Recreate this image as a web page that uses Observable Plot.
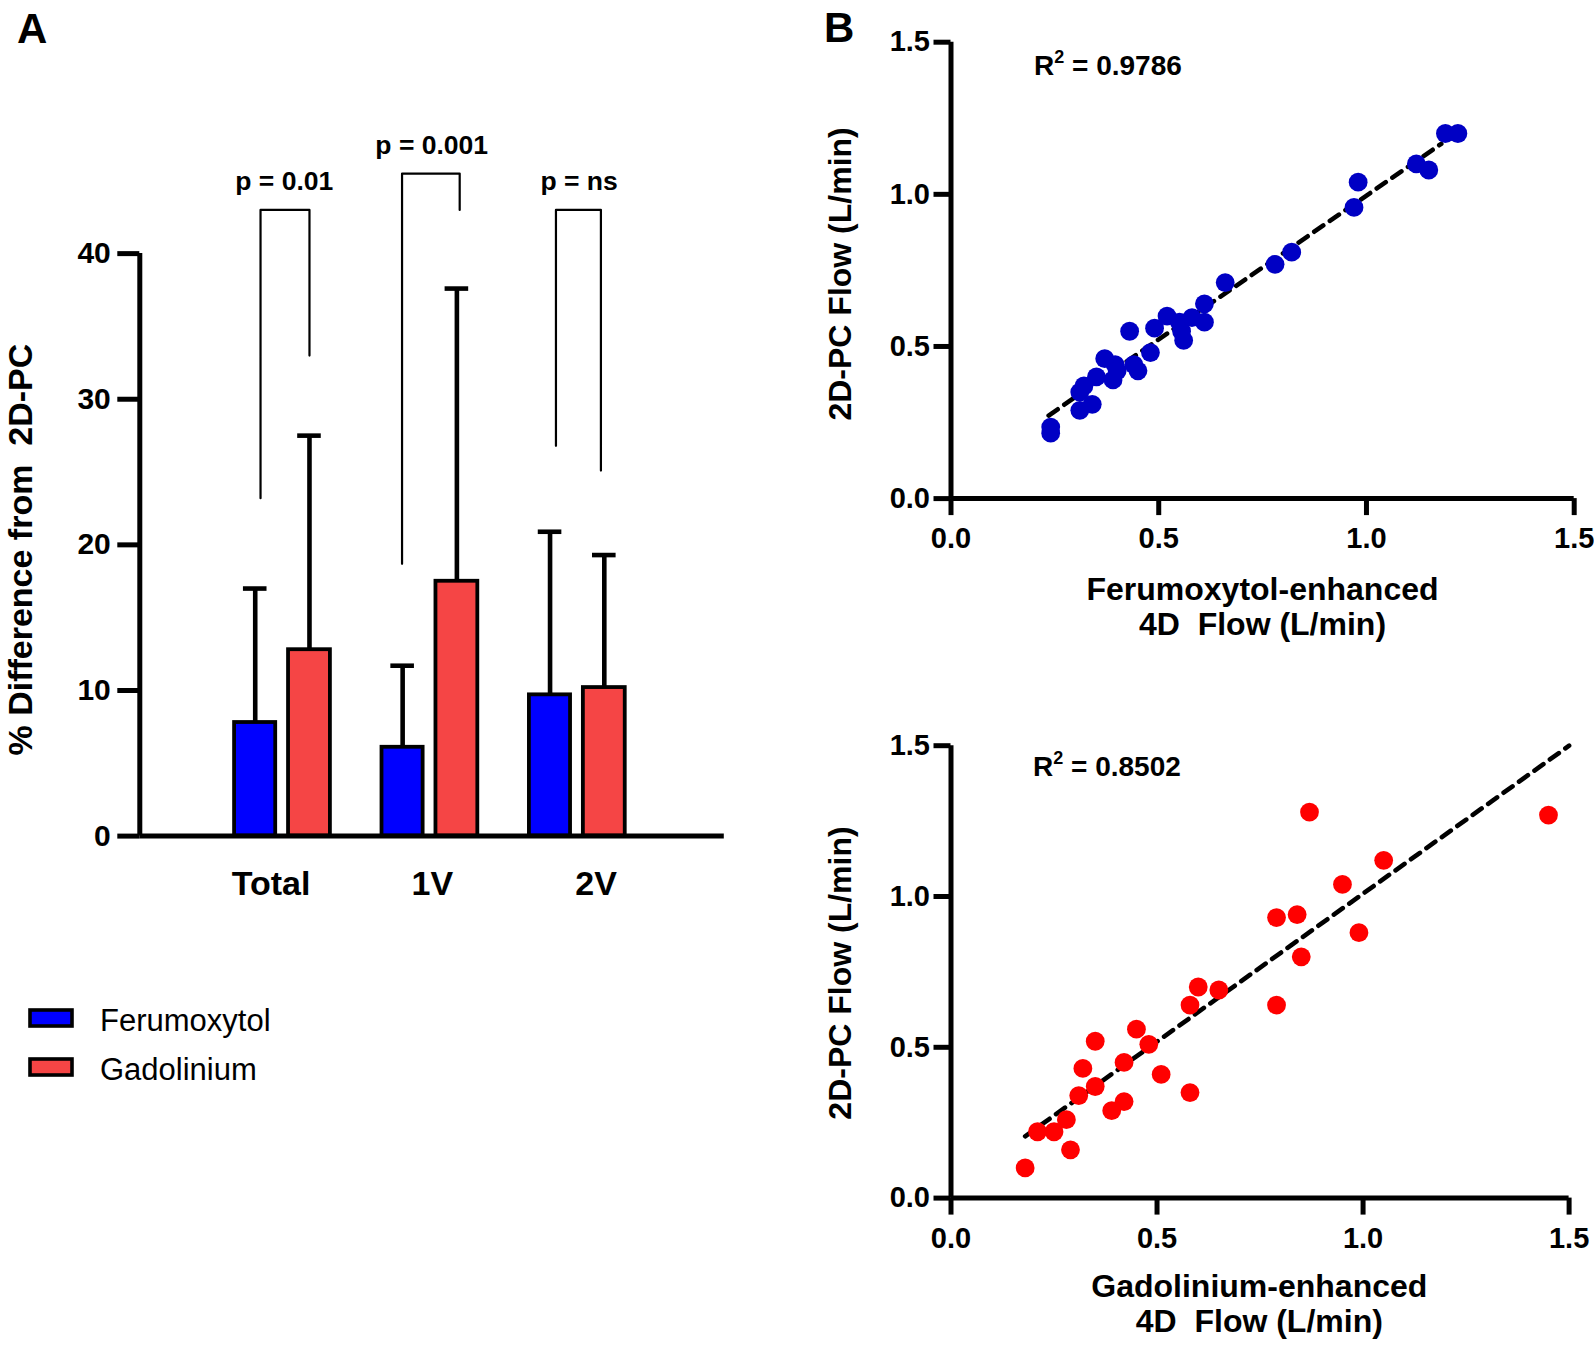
<!DOCTYPE html>
<html>
<head>
<meta charset="utf-8">
<script src="https://cdn.jsdelivr.net/npm/d3@7"></script>
<script src="https://cdn.jsdelivr.net/npm/@observablehq/plot@0.6"></script>
<style>
  html, body { margin: 0; padding: 0; background: #fff; }
  #root { position: relative; width: 1594px; height: 1345px; overflow: hidden; background: #fff;
          font-family: "Liberation Sans", Arial, Helvetica, sans-serif; }
</style>
</head>
<body>
<div id="root"></div>
<script>
// ---------------- DATA ----------------
// Panel A: % difference from 2D-PC (mean and SD)
const categories = ["Total", "1V", "2V"];
const seriesNames = ["Ferumoxytol", "Gadolinium"];
const ferumoxytolMean = [7.8, 6.1, 9.7];
const ferumoxytolSD = [9.2, 5.6, 11.2];
const gadoliniumMean = [12.8, 17.5, 10.2];
const gadoliniumSD = [14.7, 20.1, 9.1];
const yTicksA = [0, 10, 20, 30, 40];
const pLabels = ["p = 0.01", "p = 0.001", "p = ns"];
const bracketTop = [43.0, 45.5, 43.0];
const bracketLeftEnd = [23.2, 18.7, 26.8];
const bracketRightEnd = [33.0, 43.0, 25.1];

// Panel B (top): Ferumoxytol-enhanced 4D flow vs 2D-PC flow (L/min)
const ferX = [0.24, 0.24, 0.31, 0.31, 0.32, 0.34, 0.35, 0.37, 0.39, 0.395, 0.40, 0.43, 0.44, 0.45, 0.48, 0.49,
              0.52, 0.55, 0.555, 0.56, 0.58, 0.61, 0.61, 0.66, 0.78, 0.82, 0.97, 0.98, 1.12, 1.15, 1.19, 1.22];
const ferY = [0.235, 0.215, 0.29, 0.35, 0.37, 0.31, 0.40, 0.46, 0.39, 0.44, 0.42, 0.55, 0.44, 0.42, 0.48, 0.56,
              0.60, 0.58, 0.55, 0.52, 0.595, 0.58, 0.64, 0.71, 0.77, 0.81, 0.957, 1.04, 1.10, 1.08, 1.20, 1.20];
const ferTrendX = [0.235, 1.18];
const ferTrendY = [0.273, 1.166];
const ferR2 = "0.9786";

// Panel B (bottom): Gadolinium-enhanced 4D flow vs 2D-PC flow (L/min)
const gadX = [0.18, 0.21, 0.25, 0.28, 0.29, 0.31, 0.32, 0.35, 0.35, 0.39, 0.42, 0.42, 0.45, 0.48,
              0.51, 0.58, 0.58, 0.60, 0.65, 0.79, 0.79, 0.84, 0.85, 0.87, 0.95, 0.99, 1.05, 1.45];
const gadY = [0.10, 0.22, 0.22, 0.26, 0.16, 0.34, 0.43, 0.52, 0.37, 0.29, 0.32, 0.45, 0.56, 0.51,
              0.41, 0.35, 0.64, 0.70, 0.69, 0.64, 0.93, 0.94, 0.80, 1.28, 1.04, 0.88, 1.12, 1.27];
const gadTrendX = [0.18, 1.5];
const gadTrendY = [0.205, 1.5];
const gadR2 = "0.8502";

const flowTicks = [0, 0.5, 1.0, 1.5];

// ---------------- STYLE / LAYOUT ----------------
const FONT = '"Liberation Sans", Arial, Helvetica, sans-serif';
const barColors = ["#0000ff", "#f54545"];
const BAR_EDGES = [[-0.322, -0.043], [0.044, 0.328]];
const ERR_X = [-0.182, 0.186];
const CAP_HALF = 0.08;
const BRACKET_DX = [[-0.146, 0.186], [-0.186, 0.205], [-0.142, 0.163]];
const LABEL_NUDGE = [-0.075, 0.02, 0.13];
const AXIS_W = 5;

const root = document.getElementById("root");
function place(el, left, top) {
  el.style.position = "absolute";
  el.style.left = left + "px";
  el.style.top = top + "px";
  root.appendChild(el);
}

// ---------------- PANEL A ----------------
const means = [ferumoxytolMean, gadoliniumMean];
const sds = [ferumoxytolSD, gadoliniumSD];
const rows = [];
categories.forEach((c, i) => {
  seriesNames.forEach((s, j) => {
    rows.push({category: c, pos: i + 1, series: s, j, mean: means[j][i], upper: means[j][i] + sds[j][i]});
  });
});
const brackets = [];
categories.forEach((c, i) => {
  const p = i + 1;
  brackets.push({category: c, x: p + BRACKET_DX[i][0], y: bracketLeftEnd[i]});
  brackets.push({category: c, x: p + BRACKET_DX[i][0], y: bracketTop[i]});
  brackets.push({category: c, x: p + BRACKET_DX[i][1], y: bracketTop[i]});
  brackets.push({category: c, x: p + BRACKET_DX[i][1], y: bracketRightEnd[i]});
});
const pRows = categories.map((c, i) => ({pos: i + 1.015, y: bracketTop[i], label: pLabels[i]}));

const AW = 760, AH = 900;
const plotA = Plot.plot({
  width: AW, height: AH,
  marginLeft: 139.3, marginRight: AW - 723.8,
  marginTop: 107.5, marginBottom: AH - 835.6,
  x: {domain: [0.035, 4.0], axis: null},
  y: {domain: [0, 50], axis: null},
  color: {domain: seriesNames, range: barColors},
  style: {fontFamily: FONT, fontWeight: "bold", background: "transparent", overflow: "visible", color: "#000"},
  marks: [
    Plot.rectY(rows, {
      x1: d => d.pos + BAR_EDGES[d.j][0], x2: d => d.pos + BAR_EDGES[d.j][1],
      y1: 0, y2: "mean", fill: "series", stroke: "#000", strokeWidth: 3.8
    }),
    Plot.ruleX(rows, {x: d => d.pos + ERR_X[d.j], y1: "mean", y2: "upper", stroke: "#000", strokeWidth: 4.6}),
    Plot.ruleY(rows, {x1: d => d.pos + ERR_X[d.j] - CAP_HALF, x2: d => d.pos + ERR_X[d.j] + CAP_HALF,
                      y: "upper", stroke: "#000", strokeWidth: 4.6}),
    Plot.line(brackets, {x: "x", y: "y", z: "category", stroke: "#000", strokeWidth: 2.2}),
    Plot.text(pRows, {x: "pos", y: "y", dy: -28, text: "label", fontSize: 26.5, fontWeight: "bold"}),
    Plot.ruleX([0.035], {y1: 0, y2: 40, stroke: "#000", strokeWidth: AXIS_W}),
    Plot.ruleY([0], {stroke: "#000", strokeWidth: AXIS_W}),
    Plot.axisY(yTicksA, {tickSize: 22, tickPadding: 7, fontSize: 30, fontWeight: "bold", strokeWidth: AXIS_W, label: null}),
    Plot.text(categories, {x: (d, i) => i + 1 + LABEL_NUDGE[i], y: 0, dy: 48, text: d => d, fontSize: 34, fontWeight: "bold"})
  ]
});
place(plotA, 0, 0);

// ---------------- PANEL B ----------------
function scatter({xs, ys, color, tx, ty, height, marginTop, marginBottom, marginRight}) {
  const pts = xs.map((x, i) => ({x, y: ys[i]}));
  const trend = tx.map((x, i) => ({x, y: ty[i]}));
  return Plot.plot({
    width: 794, height,
    marginLeft: 150.5, marginRight, marginTop, marginBottom,
    x: {domain: [0, 1.5], axis: null},
    y: {domain: [0, 1.5], axis: null},
    style: {fontFamily: FONT, fontWeight: "bold", background: "transparent", overflow: "visible", color: "#000"},
    marks: [
      Plot.line(trend, {x: "x", y: "y", stroke: "#000", strokeWidth: 4.6, strokeDasharray: "11,8"}),
      Plot.dot(pts, {x: "x", y: "y", r: 9.4, fill: color, stroke: "none"}),
      Plot.ruleX([0], {y1: 0, y2: 1.5, stroke: "#000", strokeWidth: AXIS_W}),
      Plot.ruleY([0], {x1: 0, x2: 1.5, stroke: "#000", strokeWidth: AXIS_W}),
      Plot.axisX(flowTicks, {tickFormat: d3.format(".1f"), tickSize: 17, tickPadding: 12, fontSize: 29,
                             fontWeight: "bold", strokeWidth: AXIS_W, label: null}),
      Plot.axisY(flowTicks, {tickFormat: d3.format(".1f"), tickSize: 17, tickPadding: 4, fontSize: 29,
                             fontWeight: "bold", strokeWidth: AXIS_W, label: null})
    ]
  });
}
const plotB1 = scatter({xs: ferX, ys: ferY, color: "#0000c4", tx: ferTrendX, ty: ferTrendY,
  height: 660, marginTop: 41.7, marginBottom: 660 - 498.1, marginRight: 794 - 773.7});
place(plotB1, 800, 0);
const plotB2 = scatter({xs: gadX, ys: gadY, color: "#ff0000", tx: gadTrendX, ty: gadTrendY,
  height: 655, marginTop: 55.2, marginBottom: 655 - 507.6, marginRight: 794 - 768.6});
place(plotB2, 800, 690);

// ---------------- TITLES, LABELS, LEGEND ----------------
const ov = d3.create("svg").attr("width", 1594).attr("height", 1345)
  .style("pointer-events", "none").style("overflow", "visible")
  .attr("font-family", FONT);
place(ov.node(), 0, 0);

ov.append("text").attr("x", 17).attr("y", 43).attr("font-size", 42).attr("font-weight", "bold").text("A");
ov.append("text").attr("x", 824).attr("y", 41.5).attr("font-size", 42).attr("font-weight", "bold").text("B");

ov.append("text").attr("transform", "translate(32,549.6) rotate(-90)")
  .attr("text-anchor", "middle").attr("font-size", 34).attr("font-weight", "bold")
  .style("white-space", "pre").text("% Difference from  2D-PC");

[273.9, 973].forEach(cy => {
  ov.append("text").attr("transform", `translate(851,${cy}) rotate(-90)`)
    .attr("text-anchor", "middle").attr("font-size", 32).attr("font-weight", "bold")
    .text("2D-PC Flow (L/min)");
});

function xTitle(cx, y1, y2, first) {
  ov.append("text").attr("x", cx).attr("y", y1).attr("text-anchor", "middle")
    .attr("font-size", 32).attr("font-weight", "bold").text(first);
  ov.append("text").attr("x", cx).attr("y", y2).attr("text-anchor", "middle")
    .attr("font-size", 32).attr("font-weight", "bold").style("white-space", "pre").text("4D  Flow (L/min)");
}
xTitle(1262.5, 600, 635, "Ferumoxytol-enhanced");
xTitle(1259.3, 1297, 1332, "Gadolinium-enhanced");

function r2Text(x, baseline, value) {
  const t = ov.append("text").attr("x", x).attr("y", baseline).attr("font-size", 28).attr("font-weight", "bold")
    .style("white-space", "pre");
  t.append("tspan").text("R");
  t.append("tspan").attr("dy", -12).attr("font-size", 18).text("2");
  t.append("tspan").attr("dy", 12).text(" = " + value);
}
r2Text(1034, 74.7, ferR2);
r2Text(1033, 775.6, gadR2);

const legendY = [1010, 1059];
seriesNames.forEach((s, j) => {
  ov.append("rect").attr("x", 30).attr("y", legendY[j]).attr("width", 42).attr("height", 16)
    .attr("fill", barColors[j]).attr("stroke", "#000").attr("stroke-width", 3.6);
  ov.append("text").attr("x", 100).attr("y", legendY[j] + 20.5).attr("font-size", 31).text(s);
});
</script>
</body>
</html>
